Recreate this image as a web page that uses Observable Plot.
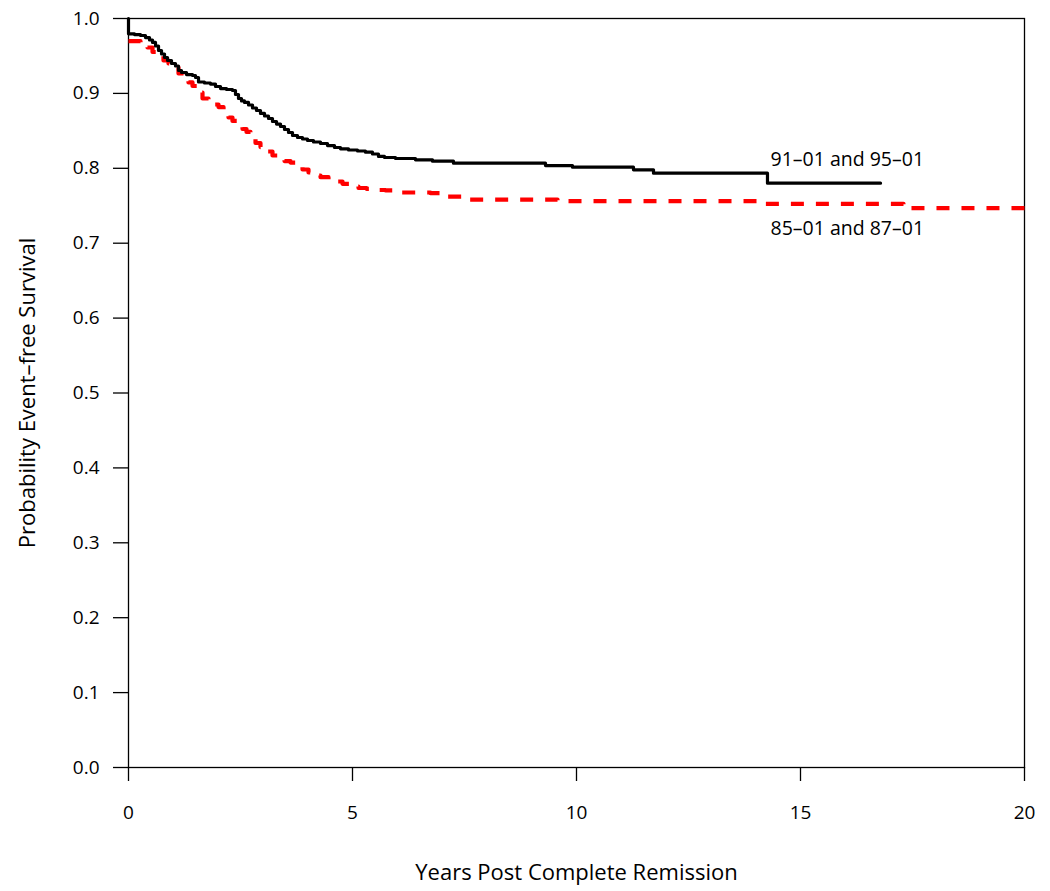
<!DOCTYPE html>
<html>
<head>
<meta charset="utf-8">
<script src="https://cdn.jsdelivr.net/npm/d3@7"></script>
<script src="https://cdn.jsdelivr.net/npm/@observablehq/plot@0.6"></script>
<style>
  html, body { margin: 0; padding: 0; background: #fff; }
</style>
</head>
<body>
<div id="chart"></div>
<script>
// Series 1: 91–01 and 95–01 (black solid), years and probability
const blackT = [0, 0, 0.134, 0.268, 0.379, 0.469, 0.536, 0.603, 0.670, 0.737, 0.804, 0.871, 0.960, 1.049, 1.116, 1.183, 1.295, 1.429, 1.496, 1.563, 1.696, 1.830, 1.942, 2.054, 2.188, 2.321, 2.388, 2.455, 2.522, 2.589, 2.679, 2.768, 2.857, 2.946, 3.036, 3.125, 3.214, 3.304, 3.393, 3.482, 3.571, 3.661, 3.772, 3.884, 3.996, 4.129, 4.286, 4.442, 4.598, 4.732, 4.911, 5.112, 5.290, 5.446, 5.580, 5.714, 5.960, 6.406, 6.786, 7.254, 9.308, 9.911, 11.272, 11.719, 14.263, 16.786];
const blackS = [1.0, 0.9796, 0.9786, 0.9773, 0.9746, 0.9713, 0.9680, 0.9633, 0.9573, 0.9526, 0.9479, 0.9439, 0.9399, 0.9366, 0.9306, 0.9279, 0.9252, 0.9239, 0.9212, 0.9152, 0.9139, 0.9125, 0.9092, 0.9065, 0.9052, 0.9039, 0.8985, 0.8932, 0.8899, 0.8879, 0.8845, 0.8805, 0.8772, 0.8732, 0.8698, 0.8665, 0.8625, 0.8591, 0.8558, 0.8518, 0.8478, 0.8438, 0.8411, 0.8391, 0.8371, 0.8351, 0.8331, 0.8304, 0.8278, 0.8260, 0.8244, 0.8231, 0.8215, 0.8191, 0.8158, 0.8144, 0.8131, 0.8113, 0.8095, 0.8068, 0.8037, 0.8015, 0.7980, 0.7935, 0.7801, 0.7801];

// Series 2: 85–01 and 87–01 (red dashed)
const redT = [0, 0.268, 0.424, 0.536, 0.670, 0.781, 0.893, 1.004, 1.116, 1.228, 1.339, 1.429, 1.540, 1.652, 1.786, 1.897, 2.009, 2.121, 2.232, 2.321, 2.433, 2.545, 2.634, 2.723, 2.835, 2.946, 3.080, 3.214, 3.348, 3.482, 3.616, 3.750, 3.884, 4.018, 4.152, 4.286, 4.464, 4.621, 4.777, 4.955, 5.134, 5.313, 5.513, 5.737, 6.004, 6.741, 7.121, 7.567, 9.576, 14.040, 17.299, 20];
const redS = [0.9697, 0.9666, 0.9613, 0.9553, 0.9499, 0.9439, 0.9399, 0.9346, 0.9266, 0.9212, 0.9146, 0.9099, 0.9012, 0.8932, 0.8891, 0.8852, 0.8818, 0.8758, 0.8678, 0.8632, 0.8585, 0.8525, 0.8485, 0.8411, 0.8338, 0.8284, 0.8224, 0.8171, 0.8137, 0.8097, 0.8077, 0.8024, 0.7984, 0.7944, 0.7904, 0.7881, 0.7850, 0.7824, 0.7793, 0.7757, 0.7737, 0.7726, 0.7710, 0.7704, 0.7677, 0.7668, 0.7623, 0.7583, 0.7561, 0.7526, 0.7467, 0.7467];

const seriesLabels = ["91\u201301 and 95\u201301", "85\u201301 and 87\u201301"];
const labelT = [14.33, 14.33];
const labelS = [0.811, 0.719];

const xTicks = [0, 5, 10, 15, 20];
const yTicks = [0, 0.1, 0.2, 0.3, 0.4, 0.5, 0.6, 0.7, 0.8, 0.9, 1.0];
const xTitle = "Years Post Complete Remission";
const yTitle = "Probability Event\u2013free Survival";

const black = blackT.map((t, i) => ({t, s: blackS[i]}));
const red = redT.map((t, i) => ({t, s: redS[i]}));
const labels = seriesLabels.map((text, i) => ({text, t: labelT[i], s: labelS[i]}));

const chart = Plot.plot({
  width: 1050,
  height: 891,
  marginLeft: 128,
  marginRight: 26,
  marginTop: 18,
  marginBottom: 124,
  style: {fontFamily: "'Open Sans', sans-serif", fontSize: "19px", color: "#000", background: "#fff"},
  x: {domain: [0, 20]},
  y: {domain: [0, 1]},
  marks: [
    Plot.frame({stroke: "#000", strokeWidth: 1.3}),
    Plot.axisX({ticks: xTicks, tickSize: 14, tickPadding: 24, label: null, strokeWidth: 1.3}),
    Plot.axisY({ticks: yTicks, tickSize: 15, tickPadding: 14, tickFormat: d3.format(".1f"), label: null, strokeWidth: 1.3}),
    Plot.line(red, {x: "t", y: "s", curve: "step-after", stroke: "#ff0000", strokeWidth: 4.2, strokeDasharray: "13,12", strokeLinecap: "butt"}),
    Plot.line(black, {x: "t", y: "s", curve: "step-after", stroke: "#000", strokeWidth: 3.2}),
    Plot.text(labels, {x: "t", y: "s", text: "text", textAnchor: "start", fontSize: 19.5, fill: "#000"}),
    Plot.text([xTitle], {frameAnchor: "bottom", dy: 105, textAnchor: "middle", lineAnchor: "middle", fontSize: 22, fill: "#000"}),
    Plot.text([yTitle], {frameAnchor: "left", dx: -101, textAnchor: "middle", lineAnchor: "middle", rotate: -90, fontSize: 22, fill: "#000"})
  ]
});
document.getElementById("chart").appendChild(chart);
</script>
</body>
</html>
